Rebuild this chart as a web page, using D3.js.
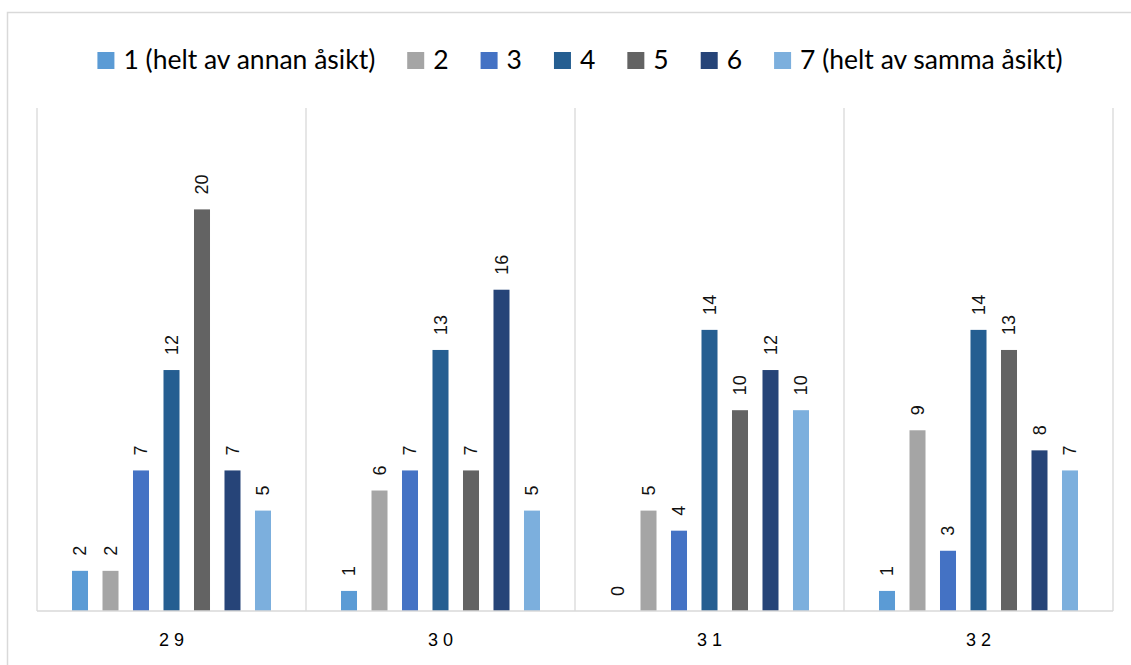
<!DOCTYPE html>
<html>
<head>
<meta charset="utf-8">
<script src="https://cdn.jsdelivr.net/npm/d3@7"></script>
<style>
  html, body { margin: 0; padding: 0; background: #ffffff; }
  svg { display: block; }
</style>
</head>
<body>
<svg id="chart" width="1131" height="665"></svg>
<script>
// Survey answers per question, on a 1–7 agreement scale
const categories = ["2 9", "3 0", "3 1", "3 2"];
const seriesNames = ["1 (helt av annan åsikt)", "2", "3", "4", "5", "6", "7 (helt av samma åsikt)"];
const seriesColors = ["#5B9BD5", "#A5A5A5", "#4472C4", "#255E91", "#636363", "#264478", "#7CAFDD"];
const values29 = [2, 2, 7, 12, 20, 7, 5];
const values30 = [1, 6, 7, 13, 7, 16, 5];
const values31 = [0, 5, 4, 14, 10, 12, 10];
const values32 = [1, 9, 3, 14, 13, 8, 7];
const groupValues = [values29, values30, values31, values32];
const yMax = 25;

const svg = d3.select("#chart");
const plot = { left: 37, right: 1113, top: 109, bottom: 611 };

// Outer chart frame (runs past the right and bottom edges)
svg.append("rect")
  .attr("x", 7.5).attr("y", 12.5)
  .attr("width", 1140).attr("height", 700)
  .attr("fill", "none")
  .attr("stroke", "#D9D9D9")
  .attr("stroke-width", 1.5);

const x0 = d3.scaleBand()
  .domain(categories)
  .range([plot.left, plot.right])
  .padding(0);

const x1 = d3.scaleBand()
  .domain(d3.range(seriesNames.length))
  .range([35, x0.bandwidth() - 35])
  .paddingInner(0.475)
  .paddingOuter(0);

const y = d3.scaleLinear()
  .domain([0, yMax])
  .range([plot.bottom, plot.top]);

// Category separators and outer vertical lines
const sepXs = categories.map(c => x0(c)).concat([plot.right]);
svg.append("g")
  .selectAll("line")
  .data(sepXs)
  .join("line")
  .attr("x1", d => d).attr("x2", d => d)
  .attr("y1", plot.top - 1).attr("y2", plot.bottom)
  .attr("stroke", "#D9D9D9")
  .attr("stroke-width", 1.3);

// Bars
const groups = svg.append("g")
  .selectAll("g")
  .data(categories.map((c, i) => ({ cat: c, vals: groupValues[i] })))
  .join("g")
  .attr("transform", d => `translate(${x0(d.cat)},0)`);

groups.selectAll("rect")
  .data(d => d.vals.map((v, i) => ({ v, i })))
  .join("rect")
  .attr("x", d => x1(d.i))
  .attr("width", x1.bandwidth())
  .attr("y", d => y(d.v))
  .attr("height", d => y(0) - y(d.v))
  .attr("fill", d => seriesColors[d.i]);

// Value labels, rotated above each bar
groups.selectAll("text.val")
  .data(d => d.vals.map((v, i) => ({ v, i })))
  .join("text")
  .attr("class", "val")
  .attr("transform", d => `translate(${x1(d.i) + x1.bandwidth() / 2},${y(d.v) - 15}) rotate(-90)`)
  .attr("dy", "0.36em")
  .attr("text-anchor", "start")
  .attr("font-family", "'Liberation Sans', Arial, sans-serif")
  .attr("font-size", 18)
  .attr("fill", "#111")
  .text(d => d.v);

// Baseline axis
svg.append("line")
  .attr("x1", plot.left).attr("x2", plot.right)
  .attr("y1", plot.bottom).attr("y2", plot.bottom)
  .attr("stroke", "#D9D9D9")
  .attr("stroke-width", 1.5);

// Category labels
const xAxis = d3.axisBottom(x0).tickSize(0).tickPadding(0);
const xg = svg.append("g")
  .attr("transform", `translate(0,${plot.bottom})`)
  .call(xAxis);
xg.select(".domain").remove();
xg.selectAll("text")
  .attr("y", 35)
  .attr("dy", 0)
  .attr("font-family", "'Liberation Sans', Arial, sans-serif")
  .attr("font-size", 18)
  .attr("fill", "#000");

// Legend, laid out left to right and centred
const legend = svg.append("g");
const items = legend.selectAll("g")
  .data(seriesNames)
  .join("g");
items.append("rect")
  .attr("width", 17).attr("height", 17)
  .attr("y", 52)
  .attr("fill", (d, i) => seriesColors[i]);
items.append("text")
  .attr("x", 26)
  .attr("y", 69)
  .attr("font-family", "Lato, 'Open Sans', sans-serif")
  .attr("font-size", 26.5)
  .attr("fill", "#000")
  .text(d => d);

let cursor = 0;
const offsets = [];
items.each(function () {
  const tw = d3.select(this).select("text").node().getComputedTextLength();
  offsets.push(cursor);
  cursor += 26 + tw + 32;
});
const total = cursor - 32;
const startX = 580 - total / 2;
items.attr("transform", (d, i) => `translate(${startX + offsets[i]},0)`);
</script>
</body>
</html>
